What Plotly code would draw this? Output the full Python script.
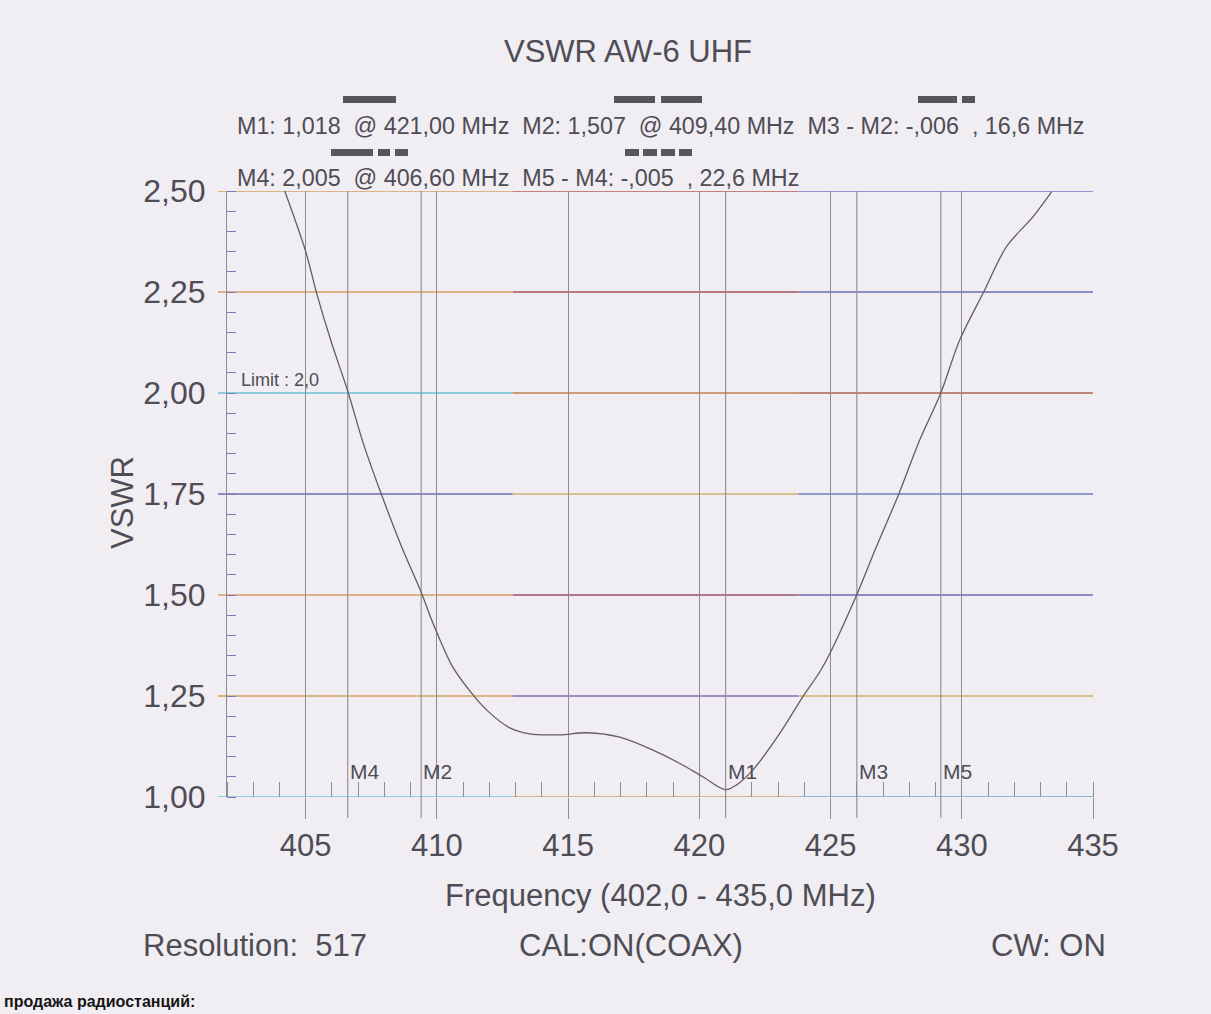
import plotly.graph_objects as go

# ---------------- data ----------------
freq_mhz = [404.2, 405.0, 405.42, 405.99, 406.6, 407.19, 407.89, 408.65, 409.4, 409.85,
            410.6, 411.26, 411.9, 412.78, 413.54, 414.69, 415.71, 416.97, 418.23, 419.26,
            420.13, 421.0, 421.42, 422.04, 423.07, 423.94, 424.59, 425.04, 426.0, 426.75,
            427.6, 428.4, 429.2, 429.92, 430.85, 431.7, 432.71, 433.42]
vswr = [2.50, 2.35, 2.246, 2.123, 2.005, 1.876, 1.748, 1.620, 1.507, 1.43,
        1.322, 1.262, 1.215, 1.171, 1.156, 1.154, 1.159, 1.148, 1.116, 1.083,
        1.050, 1.018, 1.030, 1.067, 1.158, 1.248, 1.310, 1.364, 1.501, 1.620,
        1.750, 1.884, 2.000, 2.131, 2.252, 2.362, 2.436, 2.498]

marker_names = ["M1", "M2", "M3", "M4", "M5"]
marker_freqs = [421.0, 409.4, 426.0, 406.6, 429.2]

limit_value = 2.0
limit_label = "Limit : 2,0"

x_tick_vals = [405, 410, 415, 420, 425, 430, 435]
x_tick_text = ["405", "410", "415", "420", "425", "430", "435"]
y_tick_vals = [1.00, 1.25, 1.50, 1.75, 2.00, 2.25, 2.50]
y_tick_text = ["1,00", "1,25", "1,50", "1,75", "2,00", "2,25", "2,50"]

title_text = "VSWR AW-6 UHF"
header_line1 = ("M1: 1,018\u00a0 @ 421,00 MHz\u00a0 M2: 1,507\u00a0 @ 409,40 MHz\u00a0 "
                "M3 - M2: -,006\u00a0 , 16,6 MHz")
header_line2 = "M4: 2,005\u00a0 @ 406,60 MHz\u00a0 M5 - M4: -,005\u00a0 , 22,6 MHz"
x_title = "Frequency (402,0 - 435,0 MHz)"
y_title = "VSWR"
footer_left = "Resolution:\u00a0 517"
footer_mid = "CAL:ON(COAX)"
footer_right = "CW: ON"
page_text = "продажа радиостанций:"

# ---------------- layout helpers ----------------
W, H = 1211, 1014
L, R, T, B = 227, 1093, 191, 797   # plot area in pixels


def px(x):
    return (x - L) / (R - L)


def py(y):
    return (B - y) / (B - T)


TEXT = "#4f4c55"
GRID = "#8e8b93"
BG = "#f0eef2"
FONT = "Liberation Sans, Arial, sans-serif"

fig = go.Figure()
fig.add_trace(go.Scatter(
    x=freq_mhz, y=vswr, mode="lines",
    line=dict(color="#665c64", width=1.3, shape="spline", smoothing=0.9),
    hoverinfo="x+y", showlegend=False,
))

shapes = []
# coloured horizontal grid lines (printer colour fringes)
h_colors = {
    2.50: ["#d9a062", "#b85a5a", "#7a76c8"],
    2.25: ["#d9a062", "#a85060", "#6a6ab8"],
    2.00: ["#70c0d8", "#c08050", "#b06058"],
    1.75: ["#6a6ab8", "#d0b070", "#6a80c8"],
    1.50: ["#d9a062", "#9a5070", "#6a6ab8"],
    1.25: ["#d9a062", "#8a6ab0", "#d0b070"],
    1.00: ["#70c8e0", "#d0a060", "#60a8d8"],
}
seg_edges = [px(L - 9), 0.33, 0.66, 1.0]
for v in y_tick_vals:
    cols = h_colors[v]
    for i in range(3):
        shapes.append(dict(type="line", xref="paper", yref="y",
                           x0=seg_edges[i], x1=seg_edges[i + 1], y0=v, y1=v,
                           line=dict(color=cols[i], width=1.4), layer="below"))

# marker vertical lines
for f in marker_freqs:
    shapes.append(dict(type="line", xref="x", yref="paper", x0=f, x1=f,
                       y0=py(B + 21), y1=1, line=dict(color=GRID, width=1.1),
                       layer="below"))

# dash-style swatches above the header text
dash_bars = [
    (343, 396, 96, 103),
    (614, 655, 96, 103), (661, 702, 96, 103),
    (918, 957, 96, 103), (962, 975, 96, 103),
    (331, 373, 149, 156), (378, 390, 149, 156), (395, 408, 149, 156),
    (625, 639, 149, 156), (643, 657, 149, 156), (661, 675, 149, 156), (679, 692, 149, 156),
]
for x0, x1, y0, y1 in dash_bars:
    shapes.append(dict(type="rect", xref="paper", yref="paper",
                       x0=px(x0), x1=px(x1), y0=py(y1), y1=py(y0),
                       fillcolor="#58545c", line=dict(width=0)))

annotations = [
    dict(text=title_text, x=px(628), y=py(52), font=dict(size=31, color=TEXT)),
    dict(text=header_line1, x=px(235), y=py(126), xanchor="left",
         font=dict(size=23.3, color=TEXT)),
    dict(text=header_line2, x=px(235), y=py(178), xanchor="left",
         font=dict(size=23.3, color=TEXT)),
    dict(text=x_title, x=px(660), y=py(895), font=dict(size=31, color=TEXT)),
    dict(text=y_title, x=px(122), y=py(503), textangle=-90,
         font=dict(size=31, color=TEXT)),
    dict(text=footer_left, x=px(141), y=py(945), xanchor="left",
         font=dict(size=31, color=TEXT)),
    dict(text=footer_mid, x=px(517), y=py(945), xanchor="left",
         font=dict(size=31, color=TEXT)),
    dict(text=footer_right, x=px(1108), y=py(945), xanchor="right",
         font=dict(size=31, color=TEXT)),
    dict(text="<b>" + page_text + "</b>", x=px(2), y=py(1012), xanchor="left",
         yanchor="bottom", font=dict(size=16, color="#151515")),
]
for a in annotations:
    a.update(xref="paper", yref="paper", showarrow=False)
    a.setdefault("xanchor", "center")
    a.setdefault("yanchor", "middle")

# limit label
annotations.append(dict(text=limit_label, xref="paper", yref="y", x=px(239),
                        y=limit_value, xanchor="left", yanchor="bottom", yshift=1,
                        showarrow=False, font=dict(size=18, color=TEXT)))
# marker labels
for name, f in zip(marker_names, marker_freqs):
    annotations.append(dict(text=name, xref="x", yref="y", x=f, y=1.062,
                            xanchor="left", yanchor="middle", xshift=0,
                            showarrow=False, font=dict(size=21, color=TEXT)))

fig.update_layout(
    width=W, height=H,
    margin=dict(l=L, r=W - R, t=T, b=H - B, pad=0),
    paper_bgcolor=BG, plot_bgcolor=BG,
    font=dict(family=FONT, color=TEXT),
    shapes=shapes, annotations=annotations,
    showlegend=False,
    xaxis=dict(range=[402, 435], tickvals=x_tick_vals, ticktext=x_tick_text,
               showgrid=True, gridcolor=GRID, gridwidth=1.1,
               ticks="outside", ticklen=21, tickcolor=GRID, tickwidth=1.1,
               tickfont=dict(size=31, color=TEXT), ticklabelstandoff=0,
               minor=dict(ticks="inside", dtick=1, ticklen=15, tickcolor=GRID,
                          tickwidth=1, showgrid=False),
               showline=False, zeroline=False, fixedrange=True),
    yaxis=dict(range=[1.0, 2.5], tickvals=y_tick_vals, ticktext=y_tick_text,
               showgrid=False, ticks="outside", ticklen=0, tickcolor=GRID,
               tickfont=dict(size=32, color=TEXT), ticklabelstandoff=14,
               minor=dict(ticks="inside", dtick=0.05, tick0=1.0, ticklen=9,
                          tickcolor="#8078b8", tickwidth=1.2, showgrid=False),
               showline=True, linecolor=GRID, linewidth=1.1,
               zeroline=False, fixedrange=True),
)

fig.write_html("out.html", config={"displayModeBar": False},
               post_script="document.body.style.margin='0';"
                           "document.body.style.background='" + BG + "';")
